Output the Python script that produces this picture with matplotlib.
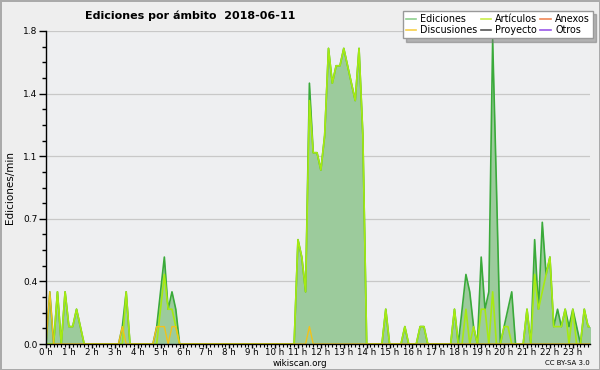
import matplotlib
matplotlib.use("Agg")
import matplotlib.pyplot as plt
from matplotlib.lines import Line2D
from matplotlib.ticker import FixedLocator, FixedFormatter, MultipleLocator
import numpy as np

# edits per minute, one value per 10 minutes (00:00 .. 23:50)
ediciones = [
    0, 0.3, 0, 0.3, 0, 0.3,          # 0 h
    0.1, 0.1, 0.2, 0.1, 0, 0,        # 1 h
    0, 0, 0, 0, 0, 0,                # 2 h
    0, 0, 0.1, 0.3, 0, 0,            # 3 h
    0, 0, 0, 0, 0, 0.1,              # 4 h
    0.3, 0.5, 0.2, 0.3, 0.2, 0,      # 5 h
    0, 0, 0, 0, 0, 0,                # 6 h
    0, 0, 0, 0, 0, 0,                # 7 h
    0, 0, 0, 0, 0, 0,                # 8 h
    0, 0, 0, 0, 0, 0,                # 9 h
    0, 0, 0, 0, 0, 0,                # 10 h
    0.6, 0.5, 0.3, 1.5, 1.1, 1.1,    # 11 h
    1.0, 1.2, 1.7, 1.5, 1.6, 1.6,    # 12 h
    1.7, 1.6, 1.5, 1.4, 1.7, 1.2,    # 13 h
    0, 0, 0, 0, 0, 0.2,              # 14 h
    0, 0, 0, 0, 0.1, 0,              # 15 h
    0, 0, 0.1, 0.1, 0, 0,            # 16 h
    0, 0, 0, 0, 0, 0.2,              # 17 h
    0, 0.2, 0.4, 0.3, 0.1, 0,        # 18 h
    0.5, 0.2, 0.3, 1.75, 0.9, 0,     # 19 h
    0.1, 0.2, 0.3, 0, 0, 0,          # 20 h
    0.2, 0, 0.6, 0.2, 0.7, 0.4,      # 21 h
    0.5, 0.1, 0.2, 0.1, 0.2, 0.1,    # 22 h
    0.2, 0.1, 0, 0.2, 0.1, 0.1,      # 23 h
]

articulos = [
    0, 0, 0, 0.3, 0, 0.3,
    0.1, 0.1, 0.2, 0.1, 0, 0,
    0, 0, 0, 0, 0, 0,
    0, 0, 0, 0.3, 0, 0,
    0, 0, 0, 0, 0, 0,
    0.2, 0.4, 0.2, 0.2, 0.1, 0,
    0, 0, 0, 0, 0, 0,
    0, 0, 0, 0, 0, 0,
    0, 0, 0, 0, 0, 0,
    0, 0, 0, 0, 0, 0,
    0, 0, 0, 0, 0, 0,
    0.6, 0.5, 0.3, 1.4, 1.1, 1.1,
    1.0, 1.2, 1.7, 1.5, 1.6, 1.6,
    1.7, 1.6, 1.5, 1.4, 1.7, 1.2,
    0, 0, 0, 0, 0, 0.2,
    0, 0, 0, 0, 0.1, 0,
    0, 0, 0.1, 0.1, 0, 0,
    0, 0, 0, 0, 0, 0.2,
    0, 0, 0.2, 0, 0.1, 0,
    0.2, 0.2, 0, 0.3, 0, 0,
    0.1, 0.1, 0, 0, 0, 0,
    0.2, 0, 0.4, 0.2, 0.3, 0.4,
    0.5, 0.1, 0.1, 0.1, 0.2, 0,
    0.2, 0, 0, 0.2, 0.1, 0.1,
]

discusiones = [0.0] * 144
discusiones[1] = 0.3
discusiones[20] = 0.1
for k in (29, 30, 31, 33, 34):
    discusiones[k] = 0.1
discusiones[69] = 0.1

ytick_vals = [0, 0.36, 0.72, 1.08, 1.44, 1.8]
ytick_labels = ["0.0", "0.4", "0.7", "1.1", "1.4", "1.8"]
hours = list(range(24))
hour_labels = [f"{h} h" for h in hours]

legend_names = ["Ediciones", "Discusiones", "Artículos", "Proyecto", "Anexos", "Otros"]
legend_colors = ["#8fd08f", "#f7d04a", "#c8ee4a", "#555555", "#f08858", "#9a58e8"]

t = np.arange(len(ediciones)) / 6.0

fig = plt.figure(figsize=(6, 3.7), dpi=100, facecolor="#eeeeee",
                 edgecolor="#aaaaaa", linewidth=2)
ax = fig.add_axes([46 / 600, 26 / 370, 544 / 600, 313 / 370])
ax.set_facecolor("#eeeff1")

ax.fill_between(t, ediciones, 0, color="#9ccb9c", lw=0, zorder=1)
ax.plot(t, ediciones, color="#3aaa3a", lw=1.2, zorder=2)
ax.plot(t, articulos, color="#a6ea12", lw=1.2, zorder=3)
ax.plot(t, discusiones, color="#f2c21a", lw=1.0, zorder=4)

ax.set_xlim(0, 23.75)
ax.set_ylim(0, 1.8)

ax.xaxis.set_major_locator(FixedLocator(hours))
ax.xaxis.set_major_formatter(FixedFormatter(hour_labels))
ax.xaxis.set_minor_locator(MultipleLocator(1 / 6))
ax.yaxis.set_major_locator(FixedLocator(ytick_vals))
ax.yaxis.set_major_formatter(FixedFormatter(ytick_labels))
ax.yaxis.set_minor_locator(MultipleLocator(0.09))

ax.tick_params(axis="x", which="major", length=3, width=1, labelsize=6.2, pad=0)
ax.tick_params(axis="x", which="minor", length=2.2, width=0.8)
ax.tick_params(axis="y", which="major", length=5, width=1, labelsize=6.5, pad=1)
ax.tick_params(axis="y", which="minor", length=3, width=1)

ax.grid(axis="y", which="major", color="#c8c8c8", lw=0.9, zorder=0)
ax.set_axisbelow(True)
for s in ("top", "right"):
    ax.spines[s].set_visible(False)
for s in ("left", "bottom"):
    ax.spines[s].set_zorder(10)
    ax.spines[s].set_linewidth(1)

ax.set_ylabel("Ediciones/min", fontsize=7.5, labelpad=6)

handles = [Line2D([], [], color=c, lw=1.2) for c in legend_colors]
ax.legend(handles, legend_names, ncol=3, loc="upper right",
          bbox_to_anchor=(593 / 600, 1 - 11 / 370), bbox_transform=fig.transFigure,
          fontsize=6.9, frameon=True, fancybox=False, framealpha=1,
          facecolor="white", edgecolor="#999999",
          handlelength=1.1, handletextpad=0.45, columnspacing=0.3,
          labelspacing=0.15, borderpad=0.3, borderaxespad=0,
          shadow={"ox": 2.5, "oy": -2.5, "color": "#777777"})

fig.text(85 / 600, 1 - 16 / 370, "Ediciones por ámbito  2018-06-11",
         fontsize=8, fontweight="bold", va="center", ha="left")
fig.text(300 / 600, 1 - 363 / 370, "wikiscan.org", fontsize=6.3, ha="center", va="center")
fig.text(590 / 600, 1 - 363 / 370, "CC BY-SA 3.0", fontsize=5, ha="right", va="center")

fig.savefig("out.png", dpi=100, facecolor=fig.get_facecolor(), edgecolor=fig.get_edgecolor())
